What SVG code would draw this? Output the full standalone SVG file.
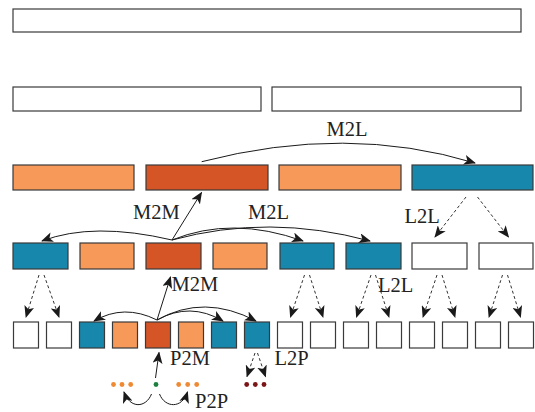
<svg xmlns="http://www.w3.org/2000/svg" width="535" height="412" viewBox="0 0 535 412">
<defs>
<marker id="ah" markerUnits="userSpaceOnUse" markerWidth="12" markerHeight="10" viewBox="0 0 12 10" refX="11" refY="5" orient="auto">
<path d="M0,0 L12,5 L0,10 L3,5 Z" fill="#1a1a1a"/>
</marker>
<style>
.b{stroke:#3a3a3a;stroke-width:1.2}
.w{fill:#ffffff}
.o{fill:#F79A59}
.r{fill:#D55527}
.t{fill:#1787AB}
.a{fill:none;stroke:#1a1a1a;stroke-width:1;marker-end:url(#ah)}
.d{fill:none;stroke:#1a1a1a;stroke-width:0.9;stroke-dasharray:3,2.5;marker-end:url(#ah)}
text{font-family:"Liberation Serif","DejaVu Serif",serif;font-size:20.5px;fill:#222}
</style>
</defs>
<g id="level0"><rect class="b w" x="13" y="9" width="508" height="23"/></g>
<g id="level1">
<rect class="b w" x="13" y="87" width="248" height="24"/>
<rect class="b w" x="272" y="87" width="249" height="24"/>
</g>
<g id="level2">
<rect class="b o" x="13" y="165" width="121" height="25"/>
<rect class="b r" x="146" y="165" width="122" height="25"/>
<rect class="b o" x="279" y="165" width="122" height="25"/>
<rect class="b t" x="412" y="165" width="121" height="25"/>
</g>
<g id="level3">
<rect class="b t" x="13" y="243" width="55" height="26"/>
<rect class="b o" x="80" y="243" width="54" height="26"/>
<rect class="b r" x="146" y="243" width="55" height="26"/>
<rect class="b o" x="213" y="243" width="54" height="26"/>
<rect class="b t" x="280" y="243" width="54" height="26"/>
<rect class="b t" x="346" y="243" width="55" height="26"/>
<rect class="b w" x="412" y="243" width="55" height="26"/>
<rect class="b w" x="479" y="243" width="54" height="26"/>
</g>
<g id="level4">
<rect class="b w" x="13.5" y="322" width="25" height="26"/>
<rect class="b w" x="46.5" y="322" width="25" height="26"/>
<rect class="b t" x="79.5" y="322" width="25" height="26"/>
<rect class="b o" x="112.5" y="322" width="25" height="26"/>
<rect class="b r" x="145.5" y="322" width="25" height="26"/>
<rect class="b o" x="178.5" y="322" width="25" height="26"/>
<rect class="b t" x="211.5" y="322" width="25" height="26"/>
<rect class="b t" x="244.5" y="322" width="25" height="26"/>
<rect class="b w" x="277.5" y="322" width="25" height="26"/>
<rect class="b w" x="310.5" y="322" width="25" height="26"/>
<rect class="b w" x="343.5" y="322" width="25" height="26"/>
<rect class="b w" x="376.5" y="322" width="25" height="26"/>
<rect class="b w" x="409.5" y="322" width="25" height="26"/>
<rect class="b w" x="442.5" y="322" width="25" height="26"/>
<rect class="b w" x="475.5" y="322" width="25" height="26"/>
<rect class="b w" x="508.5" y="322" width="25" height="26"/>
</g>
<g id="particles">
<circle cx="113.5" cy="384.5" r="2.4" fill="#EE8A33"/>
<circle cx="122" cy="384.5" r="2.4" fill="#EE8A33"/>
<circle cx="130.7" cy="384.5" r="2.4" fill="#EE8A33"/>
<circle cx="156" cy="384.5" r="2.4" fill="#1E8040"/>
<circle cx="178.7" cy="384.5" r="2.4" fill="#EE8A33"/>
<circle cx="187.7" cy="384.5" r="2.4" fill="#EE8A33"/>
<circle cx="196.7" cy="384.5" r="2.4" fill="#EE8A33"/>
<circle cx="246.7" cy="384.5" r="2.4" fill="#7A1518"/>
<circle cx="255.3" cy="384.5" r="2.4" fill="#7A1518"/>
<circle cx="264" cy="384.5" r="2.4" fill="#7A1518"/>
</g>
<g id="connectors">
<path class="a" d="M201.7,161.7 Q347,124 475,163"/>
<path class="a" d="M172,240 L201.5,192.5"/>
<path class="a" d="M172,240 Q93,221.5 42,241"/>
<path class="a" d="M172,240 Q232,215.5 303,241"/>
<path class="a" d="M172,240 Q269,213.5 370,241"/>
<path class="d" d="M466,197 L435,237"/>
<path class="d" d="M477.5,197 L508.5,237"/>
<path class="d" d="M39,275 L26,317"/>
<path class="d" d="M44,275 L59,317"/>
<path class="d" d="M304.5,275 L290.5,317"/>
<path class="d" d="M309.5,275 L323,317"/>
<path class="d" d="M371,275 L356.5,317"/>
<path class="d" d="M375.5,275 L389,317"/>
<path class="d" d="M437,275 L423,317"/>
<path class="d" d="M442,275 L455,317"/>
<path class="d" d="M502.5,275 L489,317"/>
<path class="d" d="M507.5,275 L520.5,317"/>
<path class="a" d="M157,320 L170.5,277"/>
<path class="a" d="M157,320 Q124,303.5 94,321"/>
<path class="a" d="M157,320 Q190,301.5 223,321"/>
<path class="a" d="M157,320 Q204,293.5 256,321"/>
<path class="a" d="M155.5,378 L159,352.5"/>
<path class="d" d="M255,353 L247,376.5"/>
<path class="d" d="M257.5,353 L265.5,376.5"/>
<path class="a" d="M151.5,394 C146,408 130,409 124,392"/>
<path class="a" d="M159.5,394 C165,408 182,409 187.5,392"/>
</g>
<g id="labels">
<text x="326.5" y="136">M2L</text>
<text x="133" y="218.5">M2M</text>
<text x="248" y="218.5">M2L</text>
<text x="404.5" y="223">L2L</text>
<text x="171.5" y="291">M2M</text>
<text x="378" y="291.5">L2L</text>
<text x="170" y="364.5">P2M</text>
<text x="274.5" y="364.5">L2P</text>
<text x="195" y="408">P2P</text>
</g>
</svg>
